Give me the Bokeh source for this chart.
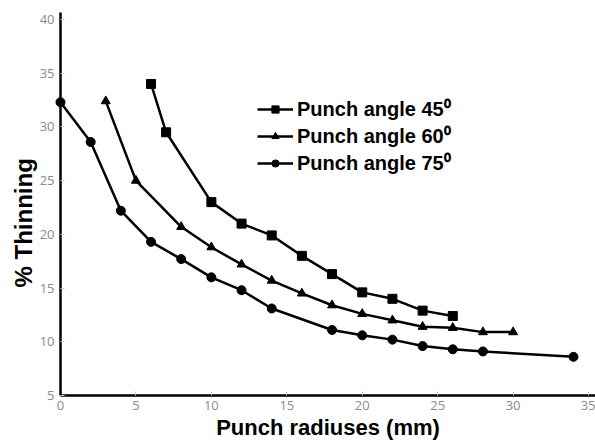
from bokeh.plotting import figure
from bokeh.models import Range1d, FixedTicker, Legend, Title
from bokeh.embed import file_html
from bokeh.resources import INLINE

# data
x45 = [6, 7, 10, 12, 14, 16, 18, 20, 22, 24, 26]
y45 = [34.0, 29.5, 23.0, 21.0, 19.9, 18.0, 16.3, 14.6, 14.0, 12.9, 12.4]

x60 = [3, 5, 8, 10, 12, 14, 16, 18, 20, 22, 24, 26, 28, 30]
y60 = [32.4, 25.0, 20.7, 18.8, 17.2, 15.7, 14.5, 13.4, 12.6, 12.0, 11.4, 11.3, 10.9, 10.9]

x75 = [0, 2, 4, 6, 8, 10, 12, 14, 18, 20, 22, 24, 26, 28, 34]
y75 = [32.3, 28.6, 22.2, 19.3, 17.7, 16.0, 14.8, 13.1, 11.1, 10.6, 10.2, 9.6, 9.3, 9.1, 8.6]

x_ticks = [0, 5, 10, 15, 20, 25, 30, 35]
y_ticks = [5, 10, 15, 20, 25, 30, 35, 40]

labels = ["Punch angle 45\u2070", "Punch angle 60\u2070", "Punch angle 75\u2070"]

p = figure(width=595, height=444, output_backend="svg", toolbar_location=None,
           x_range=Range1d(0, 35.46), y_range=Range1d(5, 40.65),
           min_border_left=60, min_border_right=0, min_border_top=12, min_border_bottom=49)
p.outline_line_color = None
p.xgrid.visible = False
p.ygrid.visible = False

items = []
for xs, ys, marker, sz, lab in [(x45, y45, "square", 9, labels[0]),
                                (x60, y60, "triangle", 9, labels[1]),
                                (x75, y75, "circle", 9, labels[2])]:
    r1 = p.line(xs, ys, line_color="black", line_width=2.5, level="overlay")
    r2 = p.scatter(xs, ys, marker=marker, size=sz, fill_color="black", line_color="black", level="overlay")
    items.append((lab, [r1, r2]))

legend = Legend(items=items, location=(187, 209), glyph_width=36, glyph_height=18,
                label_standoff=4, spacing=0, padding=10,
                label_text_font="Liberation Sans", label_text_font_style="bold",
                label_text_font_size="20px", label_text_color="black",
                border_line_alpha=0, background_fill_alpha=0)
p.add_layout(legend)

for ax in (p.xaxis[0], p.yaxis[0]):
    ax.axis_line_width = 2.5
    ax.axis_line_color = "black"
    ax.major_tick_in = 4
    ax.major_tick_out = 0
    ax.major_tick_line_color = "#c8c8c8"
    ax.minor_tick_line_color = None
    ax.major_label_text_font = "Open Sans"
    ax.major_label_text_font_size = "13px"
    ax.major_label_text_color = "#8a8a8a"
    ax.axis_label_text_font = "Liberation Sans"
    ax.axis_label_text_font_style = "bold"
    ax.axis_label_text_color = "black"

p.xaxis.ticker = FixedTicker(ticks=x_ticks)
p.yaxis.ticker = FixedTicker(ticks=y_ticks)
p.xaxis.axis_label = "Punch radiuses (mm)"
p.xaxis.axis_label_text_font_size = "22px"
p.xaxis.major_label_standoff = 5
p.yaxis.major_label_standoff = 6
p.xaxis.axis_label_standoff = 2

ytitle = Title(text="% Thinning", align="left", offset=108,
               text_font="Liberation Sans", text_font_style="bold",
               text_font_size="24px", text_color="black", standoff=0)
p.add_layout(ytitle, "left")

open("out.html", "w").write(file_html(p, INLINE))
